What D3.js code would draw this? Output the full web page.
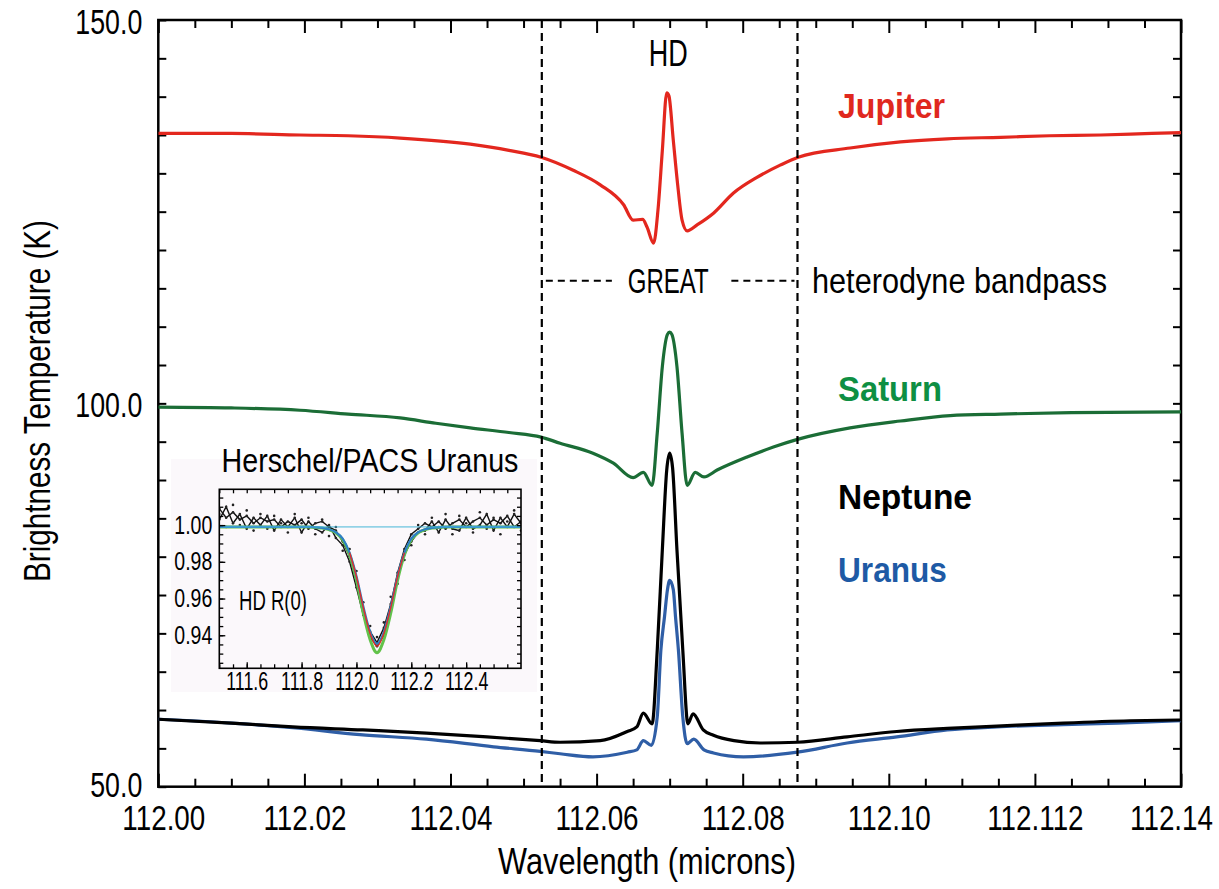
<!DOCTYPE html>
<html>
<head>
<meta charset="utf-8">
<script src="https://cdn.jsdelivr.net/npm/d3@7"></script>
<style>
  body { margin: 0; background: #fff; }
  text { font-family: "Liberation Sans", "Open Sans", "DejaVu Sans", sans-serif; fill: #000; }
</style>
</head>
<body>
<svg id="chart" width="1219" height="889"></svg>
<script>
// ---- main chart data (wavelength in microns, brightness temperature in K) ----
var jupiterWl = [112.0000, 112.0100, 112.0194, 112.0260, 112.0331, 112.0427, 112.0480, 112.0524, 112.0568, 112.0605, 112.0637, 112.0650, 112.0663, 112.0669, 112.0678, 112.0684, 112.0690, 112.0696, 112.0699, 112.0705, 112.0711, 112.0717, 112.0724, 112.0738, 112.0760, 112.0787, 112.0820, 112.0852, 112.0876, 112.0947, 112.1016, 112.1080, 112.1153, 112.1220, 112.1290, 112.1360, 112.1400];
var jupiterK  = [135.2, 135.2, 135.0, 134.9, 134.6, 133.8, 133.0, 132.1, 130.4, 128.5, 125.9, 123.9, 124.0, 123.0, 120.9, 125.2, 133.0, 140.5, 140.1, 134.3, 128.5, 123.9, 122.5, 123.3, 124.8, 127.4, 129.5, 131.1, 132.1, 133.3, 134.1, 134.5, 134.7, 134.9, 135.0, 135.2, 135.3];

var saturnWl = [112.0000, 112.0100, 112.0194, 112.0260, 112.0331, 112.0380, 112.0427, 112.0480, 112.0524, 112.0550, 112.0595, 112.0623, 112.0650, 112.0664, 112.0676, 112.0683, 112.0690, 112.0697, 112.0700, 112.0703, 112.0710, 112.0717, 112.0724, 112.0735, 112.0747, 112.0765, 112.0806, 112.0842, 112.0875, 112.0947, 112.1016, 112.1084, 112.1153, 112.1250, 112.1400];
var saturnK  = [99.5, 99.4, 99.1, 98.6, 98.1, 97.4, 96.8, 96.2, 95.6, 94.8, 93.5, 92.2, 90.3, 91.0, 89.3, 96.1, 104.8, 109.0, 109.3, 109.0, 104.8, 96.1, 89.3, 91.0, 90.4, 91.3, 93.0, 94.3, 95.3, 96.8, 97.7, 98.4, 98.6, 98.8, 98.9];

var neptuneWl = [112.0000, 112.0100, 112.0184, 112.0280, 112.0367, 112.0450, 112.0523, 112.0550, 112.0605, 112.0642, 112.0655, 112.0664, 112.0676, 112.0683, 112.0690, 112.0696, 112.0700, 112.0704, 112.0710, 112.0718, 112.0725, 112.0732, 112.0746, 112.0760, 112.0788, 112.0824, 112.0875, 112.0943, 112.1011, 112.1080, 112.1148, 112.1239, 112.1330, 112.1400];
var neptuneK  = [58.8, 58.3, 57.8, 57.4, 57.0, 56.5, 56.0, 55.8, 56.0, 57.2, 57.8, 59.6, 58.2, 67.8, 80.9, 91.3, 93.5, 91.6, 80.9, 67.8, 58.2, 59.5, 57.4, 56.7, 56.0, 55.7, 55.8, 56.5, 57.2, 57.6, 57.9, 58.3, 58.6, 58.7];

var uranusWl = [112.0000, 112.0100, 112.0184, 112.0276, 112.0367, 112.0459, 112.0523, 112.0550, 112.0595, 112.0642, 112.0655, 112.0664, 112.0675, 112.0683, 112.0688, 112.0693, 112.0697, 112.0700, 112.0705, 112.0708, 112.0712, 112.0718, 112.0724, 112.0733, 112.0747, 112.0760, 112.0801, 112.0875, 112.0943, 112.1011, 112.1080, 112.1148, 112.1239, 112.1313, 112.1400];
var uranusK  = [58.8, 58.3, 57.7, 56.8, 56.2, 55.2, 54.6, 54.3, 53.9, 54.5, 54.8, 56.0, 55.4, 59.1, 67.8, 72.2, 75.7, 76.9, 75.7, 72.2, 67.8, 59.1, 55.6, 56.2, 54.8, 54.4, 53.9, 54.5, 55.7, 56.5, 57.4, 57.8, 58.1, 58.3, 58.6];

var bandpassEdges = [112.0525, 112.0875];

var xTickValues = [112.00, 112.02, 112.04, 112.06, 112.08, 112.10, 112.12, 112.14];
var xTickLabels = ["112.00", "112.02", "112.04", "112.06", "112.08", "112.10", "112.112", "112.14"];
var yTickValues = [50, 100, 150];

// ---- inset data (Herschel/PACS Uranus, normalised) ----
var insetWl = [111.500, 111.525, 111.550, 111.575, 111.600, 111.625, 111.650, 111.675, 111.700, 111.725, 111.750, 111.775, 111.800, 111.825, 111.850, 111.875, 111.900, 111.925, 111.950, 111.975, 112.000, 112.025, 112.050, 112.075, 112.100, 112.125, 112.150, 112.175, 112.200, 112.225, 112.250, 112.275, 112.300, 112.325, 112.350, 112.375, 112.400, 112.425, 112.450, 112.475, 112.500, 112.525, 112.550, 112.575, 112.600];
var insetObsA = [1.009, 1.004, 1.007, 1.003, 1.005, 1.001, 1.004, 1.002, 1.003, 0.999, 1.002, 1.000, 1.003, 0.998, 1.001, 1.002, 0.999, 0.997, 0.991, 0.983, 0.969, 0.953, 0.942, 0.936, 0.944, 0.957, 0.974, 0.987, 0.995, 0.998, 1.001, 0.999, 1.002, 0.998, 1.001, 1.003, 0.999, 1.002, 1.004, 1.000, 1.003, 1.001, 1.005, 0.999, 1.002];
var insetObsB = [1.003, 1.010, 1.001, 1.006, 0.998, 1.004, 1.000, 1.005, 0.997, 1.003, 0.999, 1.004, 0.996, 1.002, 0.998, 0.996, 1.000, 0.993, 0.989, 0.980, 0.966, 0.951, 0.939, 0.934, 0.940, 0.955, 0.971, 0.984, 0.991, 0.996, 0.997, 1.002, 0.996, 1.003, 0.998, 0.997, 1.004, 0.998, 1.000, 1.006, 0.997, 1.004, 0.999, 1.006, 1.001];
var insetObsC = [1.006, 0.999, 1.011, 1.000, 1.008, 0.997, 1.006, 0.998, 1.005, 1.001, 0.996, 1.006, 1.001, 1.004, 0.995, 1.003, 0.994, 0.999, 0.986, 0.987, 0.975, 0.958, 0.945, 0.939, 0.947, 0.961, 0.968, 0.981, 0.989, 1.000, 0.995, 1.004, 0.999, 1.006, 0.995, 1.005, 1.001, 0.996, 1.007, 0.998, 1.004, 0.995, 1.002, 1.008, 0.997];
var insetFitGreen = [0.999, 0.999, 0.999, 0.999, 0.999, 0.999, 0.999, 0.999, 0.999, 0.999, 0.999, 0.999, 0.999, 0.999, 0.9987, 0.9984, 0.9975, 0.9958, 0.9920, 0.9838, 0.9700, 0.9520, 0.9375, 0.9305, 0.9375, 0.9520, 0.9700, 0.9838, 0.9920, 0.9958, 0.9975, 0.9984, 0.9987, 0.999, 0.999, 0.999, 0.999, 0.999, 0.999, 0.999, 0.999, 0.999, 0.999, 0.999, 0.999];
var insetFitBlue = [0.999, 0.999, 0.999, 0.999, 0.999, 0.999, 0.999, 0.999, 0.999, 0.999, 0.999, 0.999, 0.999, 0.999, 0.9988, 0.9985, 0.9977, 0.9961, 0.9926, 0.9850, 0.9723, 0.9558, 0.9419, 0.9355, 0.9419, 0.9558, 0.9723, 0.9850, 0.9926, 0.9961, 0.9977, 0.9985, 0.9988, 0.999, 0.999, 0.999, 0.999, 0.999, 0.999, 0.999, 0.999, 0.999, 0.999, 0.999, 0.999];
var insetFitRed = [0.9850, 0.9720, 0.9552, 0.9410, 0.9340, 0.9410, 0.9552, 0.9720, 0.9850];
var insetFitRedWl = [111.975, 112.000, 112.025, 112.050, 112.075, 112.100, 112.125, 112.150, 112.175];
var insetXTicks = [111.6, 111.8, 112.0, 112.2, 112.4];
var insetYTicks = [0.94, 0.96, 0.98, 1.00];

// ---- scales ----
var svg = d3.select("#chart");
var x = d3.scaleLinear().domain([112.00, 112.14]).range([158.3, 1181]);
var y = d3.scaleLinear().domain([50, 150]).range([786.7, 20]);

// squeeze a text horizontally (condensed look) by factor sx
function condense(node, sx) {
  var t = d3.select(node);
  if (t.attr("x") != null) t.attr("x", (+t.attr("x")) / sx);
  if (t.attr("dx") != null) t.attr("dx", (parseFloat(t.attr("dx")) || 0) / sx);
  var tr = t.attr("transform");
  t.attr("transform", (tr ? tr + " " : "") + "scale(" + sx + ",1)");
}
function fitText(sel, w) {
  sel.each(function() { condense(this, w / this.getComputedTextLength()); });
}
// same squeeze for every tick label; the first one gets refWidth
function squeezeTicks(g, refWidth) {
  var texts = g.selectAll("text");
  var k = refWidth / texts.node().getComputedTextLength();
  texts.each(function() { condense(this, k); });
}
function styleAxis(g, size) {
  g.attr("font-family", null).attr("font-size", null);
  g.select(".domain").remove();
  g.selectAll("line").attr("stroke", "#000").attr("stroke-width", 2);
  g.selectAll("text").style("font-size", size + "px");
}

// ---- axes (ticks point inward on all four sides) ----
var xMinorVals = d3.range(112.005, 112.14, 0.005).filter(function(v) { return Math.abs(v * 50 - Math.round(v * 50)) > 1e-6; });
var yMinorVals = d3.range(55, 150, 5).filter(function(v) { return v !== 100; });

var gxb = svg.append("g").attr("transform", "translate(0," + y(50) + ")")
  .call(d3.axisBottom(x).tickValues(xTickValues).tickFormat(function(d, i) { return xTickLabels[i]; })
    .tickSizeInner(-13).tickSizeOuter(0).tickPadding(18));
styleAxis(gxb, 36);
gxb.selectAll("text").attr("dx", function(d, i) { return i === 0 ? 5 : (i === xTickValues.length - 1 ? -10 : 0); });
squeezeTicks(gxb, 83);

var gxbm = svg.append("g").attr("transform", "translate(0," + y(50) + ")")
  .call(d3.axisBottom(x).tickValues(xMinorVals).tickFormat("").tickSizeInner(-8).tickSizeOuter(0));
styleAxis(gxbm, 10);

var gxt = svg.append("g").attr("transform", "translate(0," + y(150) + ")")
  .call(d3.axisTop(x).tickValues(xTickValues).tickFormat("").tickSizeInner(-13).tickSizeOuter(0));
styleAxis(gxt, 10);
var gxtm = svg.append("g").attr("transform", "translate(0," + y(150) + ")")
  .call(d3.axisTop(x).tickValues(xMinorVals).tickFormat("").tickSizeInner(-8).tickSizeOuter(0));
styleAxis(gxtm, 10);

var gyl = svg.append("g").attr("transform", "translate(" + x(112.00) + ",0)")
  .call(d3.axisLeft(y).tickValues(yTickValues.slice().reverse()).tickFormat(d3.format(".1f"))
    .tickSizeInner(-8).tickSizeOuter(0).tickPadding(16));
styleAxis(gyl, 35);
gyl.selectAll("text").attr("dy", function(d) { return d === 50 ? "0.28em" : "0.38em"; });
squeezeTicks(gyl, 67);

var gylm = svg.append("g").attr("transform", "translate(" + x(112.00) + ",0)")
  .call(d3.axisLeft(y).tickValues(yMinorVals).tickFormat("").tickSizeInner(-8).tickSizeOuter(0));
styleAxis(gylm, 10);

var gyr = svg.append("g").attr("transform", "translate(" + x(112.14) + ",0)")
  .call(d3.axisRight(y).tickValues(yMinorVals.concat([100])).tickFormat("").tickSizeInner(-8).tickSizeOuter(0));
styleAxis(gyr, 10);

// frame
svg.append("rect")
  .attr("x", x(112.00)).attr("y", y(150))
  .attr("width", x(112.14) - x(112.00)).attr("height", y(50) - y(150))
  .attr("fill", "none").attr("stroke", "#000").attr("stroke-width", 2.5);

// axis titles
svg.append("text").attr("x", 647).attr("y", 874).attr("text-anchor", "middle")
  .style("font-size", "37px").text("Wavelength (microns)").call(fitText, 298);
svg.append("text").attr("transform", "translate(50,401) rotate(-90)").attr("text-anchor", "middle")
  .style("font-size", "37px").text("Brightness Temperature (K)").call(fitText, 362);

// ---- curves ----
svg.append("clipPath").attr("id", "plotClip").append("rect")
  .attr("x", x(112.00)).attr("y", y(150)).attr("width", x(112.14) - x(112.00)).attr("height", y(50) - y(150));

var line = d3.line().x(function(d) { return x(d[0]); }).y(function(d) { return y(d[1]); }).curve(d3.curveMonotoneX);
var series = [
  { wl: jupiterWl, k: jupiterK, color: "#e3271e" },
  { wl: saturnWl, k: saturnK, color: "#1b6d36" },
  { wl: uranusWl, k: uranusK, color: "#2f5ea6" },
  { wl: neptuneWl, k: neptuneK, color: "#000000" }
];
var curves = svg.append("g").attr("clip-path", "url(#plotClip)");
series.forEach(function(s) {
  curves.append("path")
    .datum(d3.zip(s.wl, s.k))
    .attr("d", line)
    .attr("fill", "none")
    .attr("stroke", s.color)
    .attr("stroke-width", 3.2)
    .attr("stroke-linejoin", "round");
});

// GREAT bandpass edges
svg.selectAll(".edge").data(bandpassEdges).enter().append("line")
  .attr("class", "edge")
  .attr("x1", function(d) { return x(d); }).attr("x2", function(d) { return x(d); })
  .attr("y1", y(150)).attr("y2", y(50))
  .attr("stroke", "#000").attr("stroke-width", 2.2).attr("stroke-dasharray", "8,5");

// dashed connectors around "GREAT"
var greatSegments = [[112.0525, 112.0625], [112.0779, 112.0875]];
svg.selectAll(".gseg").data(greatSegments).enter().append("line")
  .attr("class", "gseg")
  .attr("x1", function(d) { return x(d[0]) + 4; }).attr("x2", function(d) { return x(d[1]) - 3; })
  .attr("y1", y(116)).attr("y2", y(116))
  .attr("stroke", "#000").attr("stroke-width", 2).attr("stroke-dasharray", "7,5");

svg.append("text").attr("x", x(112.0698)).attr("y", 293).attr("text-anchor", "middle")
  .style("font-size", "36px").text("GREAT").call(fitText, 81);
svg.append("text").attr("x", 812).attr("y", 293)
  .style("font-size", "36px").text("heterodyne bandpass").call(fitText, 295);
svg.append("text").attr("x", x(112.0698)).attr("y", 66).attr("text-anchor", "middle")
  .style("font-size", "37px").text("HD").call(fitText, 39);

// planet labels
var planetLabels = [
  { name: "Jupiter", color: "#e0281e", y: 118, w: 107 },
  { name: "Saturn", color: "#0e8f43", y: 401, w: 104 },
  { name: "Neptune", color: "#000000", y: 509, w: 134 },
  { name: "Uranus", color: "#1e5aa5", y: 582, w: 109 }
];
planetLabels.forEach(function(p) {
  svg.append("text").attr("x", 838).attr("y", p.y)
    .style("font-size", "36px").style("font-weight", "bold").style("fill", p.color)
    .text(p.name).call(fitText, p.w);
});

// ---- inset ----
var inset = svg.append("g");
inset.append("rect").attr("x", 171).attr("y", 459).attr("width", 366).attr("height", 233).attr("fill", "#fbf8fb");
var ix = d3.scaleLinear().domain([111.5, 112.6]).range([219.3, 521]);
var iy = d3.scaleLinear().domain([0.922, 1.0195]).range([668.3, 489.3]);

inset.append("text").attr("x", 370).attr("y", 472).attr("text-anchor", "middle")
  .style("font-size", "34px").text("Herschel/PACS Uranus").call(fitText, 297);

inset.append("clipPath").attr("id", "insetClip").append("rect")
  .attr("x", ix(111.5)).attr("y", iy(1.0195)).attr("width", ix(112.6) - ix(111.5)).attr("height", iy(0.922) - iy(1.0195));
var ig = inset.append("g").attr("clip-path", "url(#insetClip)");

var iline = d3.line().x(function(d) { return ix(d[0]); }).y(function(d) { return iy(d[1]); });
[insetObsA, insetObsB].forEach(function(v) {
  ig.append("path").datum(d3.zip(insetWl, v)).attr("d", iline)
    .attr("fill", "none").attr("stroke", "#111").attr("stroke-width", 1.4);
});
[insetObsA, insetObsB, insetObsC].forEach(function(v) {
  ig.selectAll(null).data(d3.zip(insetWl, v)).enter().append("circle")
    .attr("cx", function(d) { return ix(d[0]); }).attr("cy", function(d) { return iy(d[1]); })
    .attr("r", 1.3).attr("fill", "#222");
});
var ifit = d3.line().x(function(d) { return ix(d[0]); }).y(function(d) { return iy(d[1]); }).curve(d3.curveMonotoneX);
ig.append("path").datum(d3.zip(insetWl, insetFitGreen)).attr("d", ifit)
  .attr("fill", "none").attr("stroke", "#62c24a").attr("stroke-width", 3);
ig.append("path").datum(d3.zip(insetWl, insetFitBlue)).attr("d", ifit)
  .attr("fill", "none").attr("stroke", "#2e7fc4").attr("stroke-width", 2.2);
ig.append("path").datum(d3.zip(insetFitRedWl, insetFitRed)).attr("d", ifit)
  .attr("fill", "none").attr("stroke", "#e0302a").attr("stroke-width", 1.4);
ig.append("line").attr("x1", ix(111.5)).attr("x2", ix(112.6)).attr("y1", iy(0.999)).attr("y2", iy(0.999))
  .attr("stroke", "#46b6d8").attr("stroke-width", 1);

var ixMinor = d3.range(111.5, 112.6, 0.05);
var iyMinor = d3.range(0.925, 1.0195, 0.005);

var igb = inset.append("g").attr("transform", "translate(0," + iy(0.922) + ")")
  .call(d3.axisBottom(ix).tickValues(insetXTicks).tickFormat(d3.format(".1f")).tickSizeInner(-6).tickSizeOuter(0).tickPadding(4));
styleAxis(igb, 25);
squeezeTicks(igb, 42);
var igbm = inset.append("g").attr("transform", "translate(0," + iy(0.922) + ")")
  .call(d3.axisBottom(ix).tickValues(ixMinor).tickFormat("").tickSizeInner(-4).tickSizeOuter(0));
styleAxis(igbm, 10);
var igt = inset.append("g").attr("transform", "translate(0," + iy(1.0195) + ")")
  .call(d3.axisTop(ix).tickValues(ixMinor).tickFormat("").tickSizeInner(-4).tickSizeOuter(0));
styleAxis(igt, 10);

var igl = inset.append("g").attr("transform", "translate(" + ix(111.5) + ",0)")
  .call(d3.axisLeft(iy).tickValues(insetYTicks.slice().reverse()).tickFormat(d3.format(".2f")).tickSizeInner(-6).tickSizeOuter(0).tickPadding(7));
styleAxis(igl, 25);
squeezeTicks(igl, 38);
var iglm = inset.append("g").attr("transform", "translate(" + ix(111.5) + ",0)")
  .call(d3.axisLeft(iy).tickValues(iyMinor).tickFormat("").tickSizeInner(-4).tickSizeOuter(0));
styleAxis(iglm, 10);
var igr = inset.append("g").attr("transform", "translate(" + ix(112.6) + ",0)")
  .call(d3.axisRight(iy).tickValues(iyMinor).tickFormat("").tickSizeInner(-4).tickSizeOuter(0));
styleAxis(igr, 10);
inset.selectAll(".tick line").attr("stroke-width", 1.3);

inset.append("rect")
  .attr("x", ix(111.5)).attr("y", iy(1.0195))
  .attr("width", ix(112.6) - ix(111.5)).attr("height", iy(0.922) - iy(1.0195))
  .attr("fill", "none").attr("stroke", "#000").attr("stroke-width", 1.6);

inset.append("text").attr("x", 239).attr("y", 610)
  .style("font-size", "28px").text("HD R(0)").call(fitText, 68);
</script>
</body>
</html>
